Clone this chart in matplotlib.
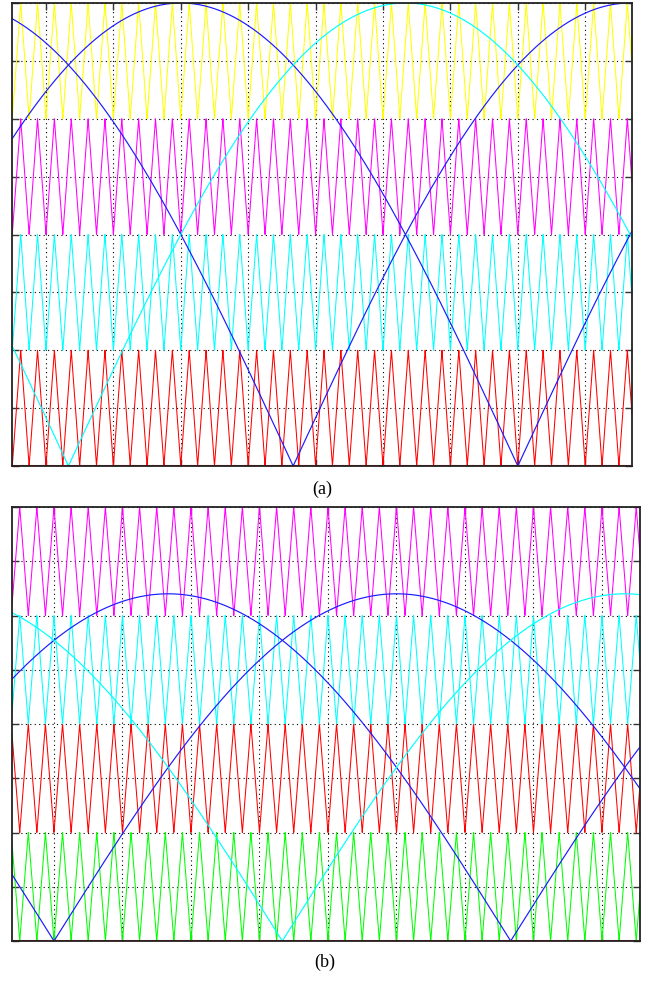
import numpy as np
import matplotlib
matplotlib.use("Agg")
import matplotlib.pyplot as plt

# ---- signal parameters (times in ms) ----
f_ref_period = 20.0          # reference period, ms (50 Hz)
carrier_period = 0.25        # carrier period, ms (4 kHz)

# panel (a): phase disposition, modulation index 1.0
a_xlim = (-0.504, 8.694)
a_mod = 1.0
a_band_colors = ["red", "cyan", "magenta", "yellow"]      # bands 0-1 .. 3-4
a_band_shift = [0.0, 0.0, 0.0, 0.0]                       # carrier phase shift (fraction of period)
a_ref_zeros = [7.0, 3.667, 0.333]                          # zero instants of |sin| references
a_ref_colors = ["#1a1aff", "#1a1aff", "cyan"]

# panel (b): phase opposition disposition, modulation index 0.8
b_xlim = (-0.613, 8.555)
b_mod = 0.8
b_band_colors = ["#00ff00", "red", "cyan", "magenta"]
b_band_shift = [0.0, 0.0, 0.5, 0.5]
b_ref_zeros = [0.0, 6.667, 3.333]
b_ref_colors = ["#1a1aff", "#1a1aff", "cyan"]

n_levels = 4
x_ticks_ms = np.arange(-1, 10, 1.0)
y_ticks = np.arange(0, 4.01, 0.5)


def draw_panel(ax, xlim, mod, band_colors, band_shift, ref_zeros, ref_colors):
    t = np.linspace(xlim[0], xlim[1], 40000)
    for k, (col, sh) in enumerate(zip(band_colors, band_shift)):
        p = np.mod(t / carrier_period + sh, 1.0)
        tri = 1.0 - np.abs(2.0 * p - 1.0)
        ax.plot(t, k + tri, color=col, lw=0.75, zorder=2)
    for z, col in zip(ref_zeros, ref_colors):
        ref = n_levels * mod * np.abs(np.sin(2 * np.pi * (t - z) / f_ref_period))
        ax.plot(t, ref, color=col, lw=0.85, zorder=3)
    ax.axhline(0, color="red", lw=2.2, zorder=4)
    ax.set_xlim(*xlim)
    ax.set_ylim(0, n_levels)
    ax.set_xticks(x_ticks_ms)
    ax.set_yticks(y_ticks)
    ax.set_xlim(*xlim)
    ax.set_xticklabels([])
    ax.set_yticklabels([])
    ax.tick_params(direction="in", length=5, width=1, top=True, right=True,
                   colors="#333333")
    ax.grid(True, color="black", linestyle=(0, (1, 3)), lw=0.8, zorder=1)
    ax.set_axisbelow(True)
    for s in ax.spines.values():
        s.set_color("#222222")
        s.set_linewidth(1.3)
        s.set_zorder(5)


fig = plt.figure(figsize=(6.48, 9.83), dpi=100)
W, H = 648.0, 983.0
ax_a = fig.add_axes([12 / W, 1 - 466 / H, 620 / W, 463 / H])
ax_b = fig.add_axes([12 / W, 1 - 941 / H, 628 / W, 434 / H])

draw_panel(ax_a, a_xlim, a_mod, a_band_colors, a_band_shift, a_ref_zeros, a_ref_colors)
draw_panel(ax_b, b_xlim, b_mod, b_band_colors, b_band_shift, b_ref_zeros, b_ref_colors)

fig.text(322 / W, 1 - 489 / H, "(a)", ha="center", va="center",
         family="Liberation Serif", fontsize=13)
fig.text(325 / W, 1 - 962 / H, "(b)", ha="center", va="center",
         family="Liberation Serif", fontsize=13)

fig.savefig("out.png", dpi=100)
